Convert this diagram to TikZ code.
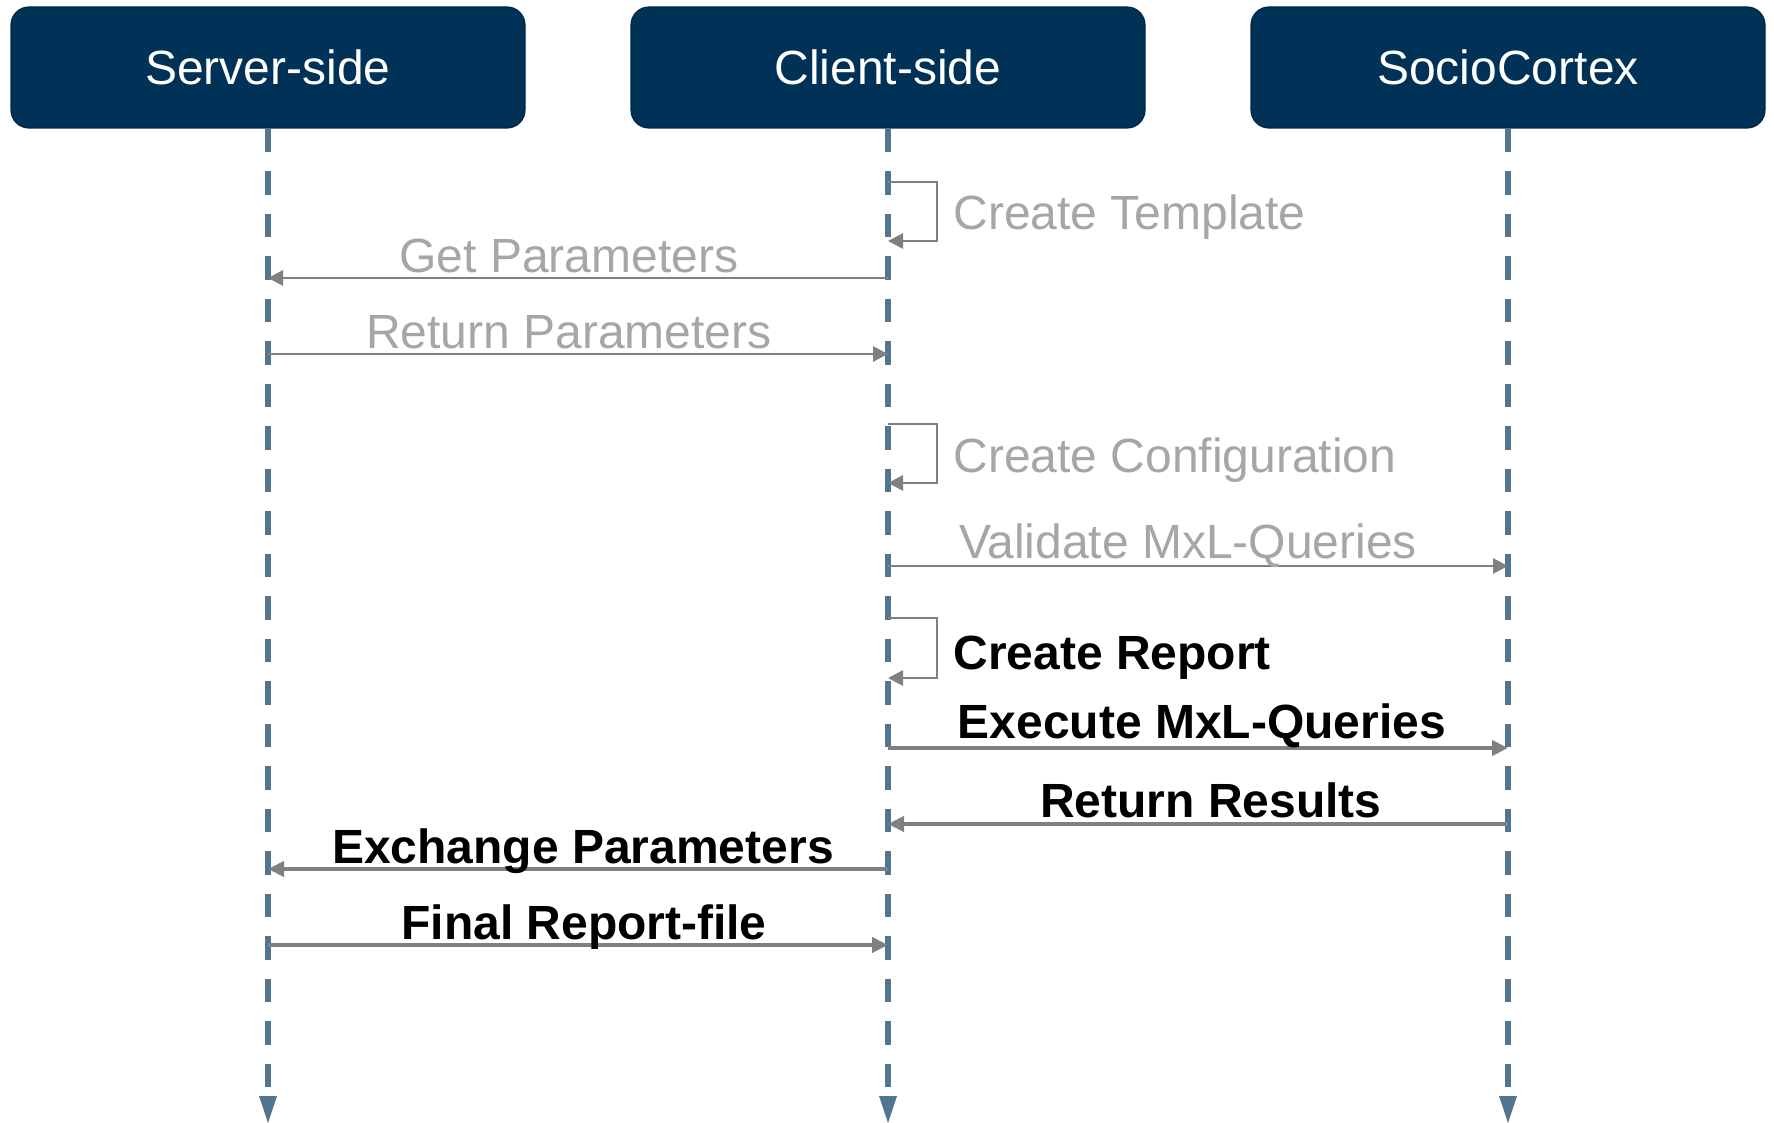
\documentclass[tikz,border=0pt]{standalone}
\usepackage{fontspec}
\setmainfont{Liberation Sans}
\usetikzlibrary{arrows.meta}
\definecolor{navy}{HTML}{003157}
\definecolor{lifec}{HTML}{52768F}
\definecolor{msgc}{HTML}{808080}
\definecolor{lblgrey}{HTML}{A6A6A6}
\tikzset{
  hdr/.style={draw=navy!80!black, line width=0.6pt, fill=navy, rounded corners=9pt, minimum width=257pt, minimum height=60.5pt, inner sep=0pt, text=white, font=\fontsize{24}{28}\selectfont},
  life/.style={draw=lifec, line width=2.75pt, dash pattern=on 11.75pt off 9.5pt},
  lifetip/.style={fill=lifec},
  msglite/.style={draw=msgc, line width=1.4pt, -{Triangle[length=7.5pt,width=7.5pt]}},
  msgbold/.style={draw=msgc, line width=2pt, -{Triangle[length=8pt,width=7.5pt]}},
  lbllite/.style={text=lblgrey, inner sep=0pt, anchor=base, font=\fontsize{24}{28}\selectfont},
  lblbold/.style={text=black, inner sep=0pt, anchor=base, font=\bfseries\fontsize{24}{28}\selectfont},
}
\begin{document}
\begin{tikzpicture}[x=0.5pt,y=-0.5pt]
\useasboundingbox (0,0) rectangle (1774,1123);
% headers
\node[hdr] (srv) at (268,67.5) {Server-side};
\node[hdr] (cli) at (888,67.5) {Client-side};
\node[hdr] (soc) at (1508,67.5) {SocioCortex};
% lifelines
\coordinate (srvE) at (srv |- 0,1093);
\coordinate (cliE) at (cli |- 0,1093);
\coordinate (socE) at (soc |- 0,1093);
\draw[life] (srv.south) -- (srvE);
\draw[life] (cli.south) -- (cliE);
\draw[life] (soc.south) -- (socE);
\fill[lifetip] (srvE) ++(-9,3) -- ++(18,0) -- ++(-9,27) -- cycle;
\fill[lifetip] (cliE) ++(-9,3) -- ++(18,0) -- ++(-9,27) -- cycle;
\fill[lifetip] (socE) ++(-9,3) -- ++(18,0) -- ++(-9,27) -- cycle;
% Create Template
\draw[msglite] (cli |- 0,182) -- (937,182) -- (937,241) -- (cli |- 0,241);
\node[lbllite, anchor=base west] (l1) at (953,230) {Create Template};
% Get Parameters
\draw[msglite] (cli |- 0,278) -- (srv |- 0,278);
\node[lbllite] (l2) at (569,273) {Get Parameters};
% Return Parameters
\draw[msglite] (srv |- 0,354) -- (cli |- 0,354);
\node[lbllite] (l3) at (569,349) {Return Parameters};
% Create Configuration
\draw[msglite] (cli |- 0,424) -- (937,424) -- (937,483) -- (cli |- 0,483);
\node[lbllite, anchor=base west] (l4) at (953,473) {Create Configuration};
% Validate
\draw[msglite] (cli |- 0,566) -- (soc |- 0,566);
\node[lbllite] (l5) at (1188,558) {Validate MxL-Queries};
% Create Report
\draw[msglite] (cli |- 0,618) -- (937,618) -- (937,678) -- (cli |- 0,678);
\node[lblbold, anchor=base west] (l6) at (953,669) {Create Report};
% Execute
\draw[msgbold] (cli |- 0,748) -- (soc |- 0,748);
\node[lblbold] (l7) at (1202,738) {Execute MxL-Queries};
% Return Results
\draw[msgbold] (soc |- 0,824) -- (cli |- 0,824);
\node[lblbold] (l8) at (1211,817) {Return Results};
% Exchange Parameters
\draw[msgbold] (cli |- 0,869) -- (srv |- 0,869);
\node[lblbold] (l9) at (583,863) {Exchange Parameters};
% Final Report-file
\draw[msgbold] (srv |- 0,945) -- (cli |- 0,945);
\node[lblbold] (l10) at (584,939) {Final Report-file};
\end{tikzpicture}
\end{document}
